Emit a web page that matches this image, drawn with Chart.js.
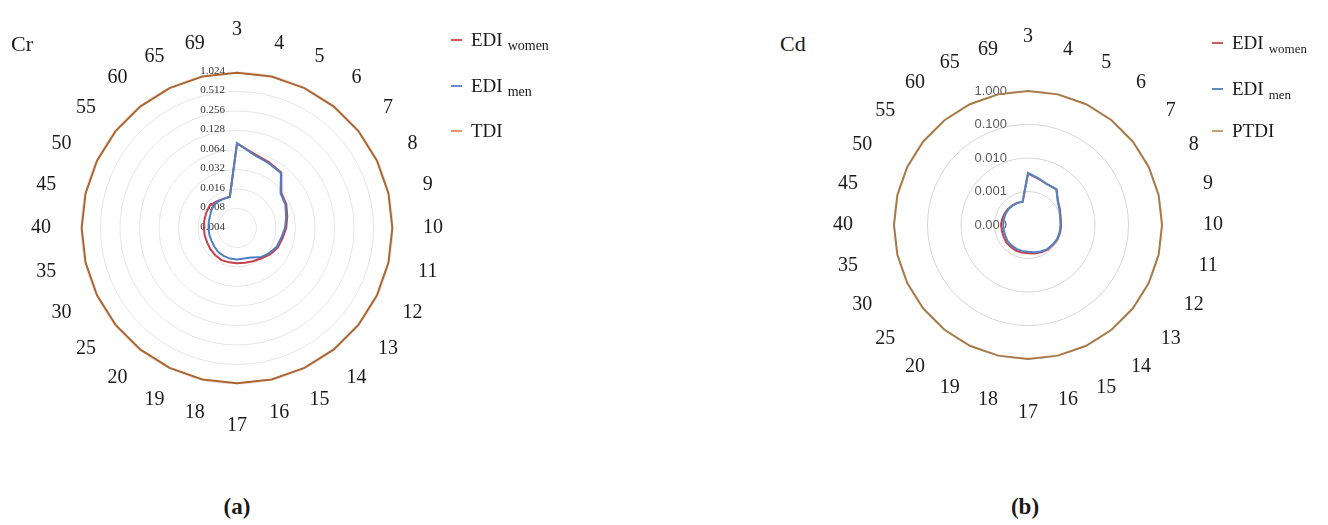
<!DOCTYPE html>
<html>
<head>
<meta charset="utf-8">
<script src="https://cdn.jsdelivr.net/npm/chart.js@4/dist/chart.umd.min.js"></script>
<style>
  html, body { margin:0; padding:0; background:#fff; }
  body { width:1328px; height:525px; position:relative; overflow:hidden; font-family:'Liberation Serif', 'Times New Roman', serif; color:#1a1a1a; }
  canvas { position:absolute; z-index:1; }
  .title { position:absolute; font-size:22px; line-height:24px; z-index:2; }
  .cap { position:absolute; font-size:23px; font-weight:bold; line-height:26px; transform:translateX(-50%); z-index:2; }
  .row { position:absolute; height:24px; display:flex; align-items:center; white-space:nowrap; font-size:19px; z-index:2; }
  .mk { display:inline-block; width:11px; height:2px; margin-right:9px; }
  .row sub { font-size:14px; vertical-align:-4px; margin-left:5px; line-height:0; }
</style>
</head>
<body>
<canvas id="cr" width="474" height="474" style="left:0px;top:-9px;"></canvas>
<canvas id="cd" width="420" height="420" style="left:818px;top:15px;"></canvas>

<div class="title" style="left:11px;top:32px;">Cr</div>
<div class="title" style="left:780px;top:32px;">Cd</div>

<div class="row" style="left:451px;top:28px;"><span class="mk" style="background:#d0585c"></span><span>EDI<sub>women</sub></span></div>
<div class="row" style="left:451px;top:74px;"><span class="mk" style="background:#6b8fc4"></span><span>EDI<sub>men</sub></span></div>
<div class="row" style="left:451px;top:119px;"><span class="mk" style="background:#e39a6c"></span><span>TDI</span></div>

<div class="row" style="left:1212px;top:31px;"><span class="mk" style="background:#d0585c"></span><span>EDI<sub style="font-size:13px">women</sub></span></div>
<div class="row" style="left:1212px;top:77px;"><span class="mk" style="background:#5b8cc4"></span><span>EDI<sub style="font-size:13px">men</sub></span></div>
<div class="row" style="left:1212px;top:119px;"><span class="mk" style="background:#c9a06e"></span><span>PTDI</span></div>

<div class="cap" style="left:237px;top:494px;">(a)</div>
<div class="cap" style="left:1025px;top:494px;">(b)</div>

<script>
// ---- data ----
const categories = ['3','4','5','6','7','8','9','10','11','12','13','14','15','16','17','18','19','20','25','30','35','40','45','50','55','60','65','69'];

const crWomen = [0.080,0.060,0.054,0.050,0.030,0.028,0.025,0.023,0.021,0.020,0.018,0.016,0.0148,0.0142,0.0140,0.0140,0.0142,0.0138,0.0134,0.0130,0.0130,0.0130,0.0132,0.0135,0.0140,0.0132,0.0126,0.0125];
const crMen   = [0.082,0.058,0.052,0.049,0.029,0.027,0.024,0.022,0.020,0.019,0.017,0.0152,0.0128,0.0122,0.0122,0.0122,0.0120,0.0118,0.0113,0.0110,0.0110,0.0110,0.0112,0.0115,0.0125,0.0128,0.0125,0.0125];
const crTDI   = [1.0,1.0,1.0,1.0,1.0,1.0,1.0,1.0,1.0,1.0,1.0,1.0,1.0,1.0,1.0,1.0,1.0,1.0,1.0,1.0,1.0,1.0,1.0,1.0,1.0,1.0,1.0,1.0];
const crTickLabels = ['0.004','0.008','0.016','0.032','0.064','0.128','0.256','0.512','1.024'];

const cdWomen = [0.0034,0.0026,0.0022,0.0023,0.0014,0.00115,0.0010,0.00097,0.00097,0.00095,0.00090,0.00088,0.00080,0.00075,0.00070,0.00070,0.00070,0.00068,0.00068,0.00064,0.00063,0.00063,0.00062,0.00060,0.00058,0.00056,0.00054,0.00052];
const cdMen   = [0.0036,0.0027,0.0022,0.0023,0.00136,0.0011,0.00097,0.00093,0.00093,0.00092,0.00087,0.00083,0.00075,0.00068,0.00063,0.00062,0.00062,0.00060,0.00060,0.00056,0.00055,0.00055,0.00055,0.00056,0.00056,0.00055,0.00054,0.00052];
const cdPTDI  = [1.0,1.0,1.0,1.0,1.0,1.0,1.0,1.0,1.0,1.0,1.0,1.0,1.0,1.0,1.0,1.0,1.0,1.0,1.0,1.0,1.0,1.0,1.0,1.0,1.0,1.0,1.0,1.0];
const cdTickLabels = ['0.000','0.001','0.010','0.100','1.000'];

// log axis mapping onto Chart.js radial scale
const crLog = v => Math.log2(v / 0.004);     // one ring per doubling, centre = 0.004
const cdLog = v => Math.log10(v / 0.0001);   // one ring per decade, centre = 0.0001

// radial tick labels (left of the vertical axis) and category labels around the chart
const radarText = {
  id: 'radarText',
  beforeDatasetsDraw(chart, args, opts) {
    const s = chart.scales.r, ctx = chart.ctx;
    const N = chart.data.labels.length;
    ctx.save();
    ctx.font = opts.tickFont;
    ctx.fillStyle = opts.tickColor;
    ctx.textAlign = 'right';
    ctx.textBaseline = 'middle';
    s.ticks.forEach((t, i) => {
      if (opts.tickLabels[i] === undefined) return;
      const d = s.getDistanceFromCenterForValue(t.value);
      ctx.fillText(opts.tickLabels[i], s.xCenter - opts.dx, s.yCenter - d + opts.dy);
    });
    ctx.font = opts.catFont;
    ctx.fillStyle = '#1a1a1a';
    ctx.textAlign = 'center';
    chart.data.labels.forEach((lab, i) => {
      const th = i * 2 * Math.PI / N;
      const sn = Math.sin(th), cs = Math.abs(Math.cos(th));
      const off = opts.base + opts.side * sn * sn + opts.pole * Math.pow(cs, 200);
      const p = s.getPointPosition(i, s.drawingArea + off);
      ctx.fillText(lab, p.x, p.y);
    });
    ctx.restore();
  }
};

function makeRadar(id, series, colors, maxV, gridColor, pad, textOpts) {
  return new Chart(document.getElementById(id), {
    type: 'radar',
    data: {
      labels: categories,
      datasets: series.map((d, i) => ({
        data: d, borderColor: colors[i], borderWidth: 2, fill: false,
        pointRadius: 0, tension: 0
      }))
    },
    plugins: [radarText],
    options: {
      responsive: false, animation: false,
      layout: { padding: pad },
      plugins: { legend: { display: false }, tooltip: { enabled: false }, radarText: textOpts },
      scales: {
        r: {
          min: 0, max: maxV,
          ticks: { display: false, stepSize: 1 },
          grid: { circular: true, color: gridColor, lineWidth: 1 },
          angleLines: { display: false },
          pointLabels: { display: false }
        }
      }
    }
  });
}

makeRadar('cr',
  [crMen.map(crLog), crWomen.map(crLog), crTDI.map(crLog)],
  ['#4f7fc0', '#c9404c', '#b0642e'],
  8, '#e6e6e6', 81,
  { tickLabels: crTickLabels, tickFont: '11px "Liberation Serif"', tickColor: '#333', dx: 12, dy: -1,
    catFont: '20px "Liberation Serif"', base: 33, side: 7, pole: 9 });

makeRadar('cd',
  [cdMen.map(cdLog), cdWomen.map(cdLog), cdPTDI.map(cdLog)],
  ['#4f85c4', '#c9404c', '#a97a48'],
  4, '#d6d6d6', 76,
  { tickLabels: cdTickLabels, tickFont: '13px "Liberation Sans"', tickColor: '#5a5a5a', dx: 21, dy: 0,
    catFont: '20px "Liberation Serif"', base: 45, side: 6, pole: 9 });
</script>
</body>
</html>
